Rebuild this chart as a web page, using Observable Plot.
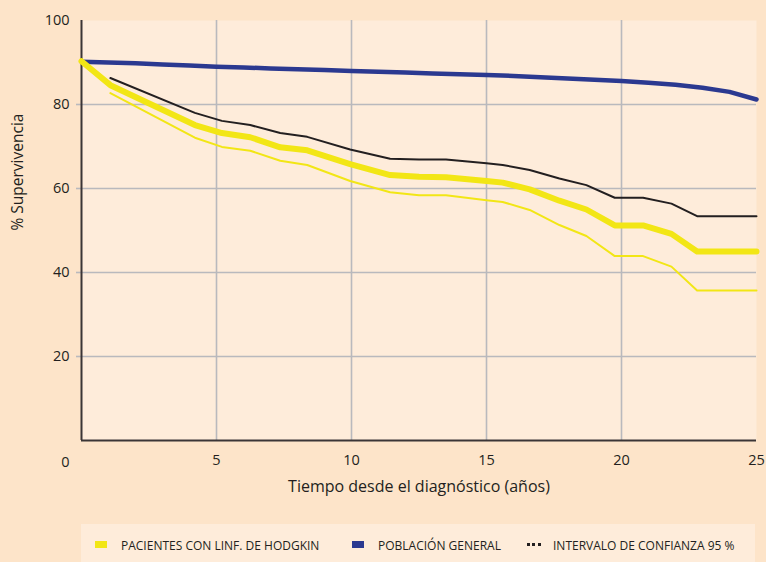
<!DOCTYPE html>
<html>
<head>
<meta charset="utf-8">
<script src="https://cdn.jsdelivr.net/npm/d3@7"></script>
<script src="https://cdn.jsdelivr.net/npm/@observablehq/plot@0.6"></script>
<style>
  html, body { margin: 0; padding: 0; background: #fde4c9; }
  body { width: 766px; height: 562px; overflow: hidden; font-family: "Open Sans", "Noto Sans", sans-serif; position: relative; }
  #legend { position: absolute; left: 81px; top: 524px; width: 674px; height: 38px; background: #feecda; }
  .li { position: absolute; top: 0; height: 38px; display: flex; align-items: center; font-size: 12px; color: #231f20; white-space: nowrap; }
  .sw { position: absolute; }
</style>
</head>
<body>
<div id="chart"></div>
<div id="legend"></div>
<script>
// Time points (years) for the patient series
const tPatients = [0, 1.07, 4.2, 5.2, 6.25, 7.36, 8.36, 9.95, 11.43, 12.5, 13.5, 15, 15.6, 16.6, 17.7, 18.7, 19.75, 20.8, 21.85, 22.8, 25];
const hodgkin   = [90.3, 84.6, 75.1, 73.2, 72.2, 69.8, 69.1, 65.8, 63.2, 62.8, 62.7, 61.8, 61.4, 59.8, 57.1, 55.0, 51.2, 51.2, 49.2, 45.0, 45.0];
// Confidence interval (starts at the second time point)
const ciUpper   = [86.3, 78.0, 76.1, 75.1, 73.2, 72.3, 69.3, 67.1, 66.9, 66.9, 66.0, 65.6, 64.4, 62.4, 60.8, 57.8, 57.8, 56.4, 53.4, 53.4];
const ciLower   = [82.7, 72.1, 69.9, 69.0, 66.6, 65.6, 61.8, 59.1, 58.4, 58.4, 57.2, 56.8, 54.9, 51.3, 48.7, 43.9, 43.9, 41.4, 35.7, 35.7];
// General population
const tGeneral  = [0,1,2,3,4,5,6,7,8,9,10,11,12,13,14,15,16,17,18,19,20,21,22,23,24,25];
const general   = [90.2, 90.0, 89.8, 89.5, 89.3, 89.0, 88.8, 88.6, 88.4, 88.2, 88.0, 87.8, 87.6, 87.4, 87.2, 87.0, 86.8, 86.5, 86.2, 85.9, 85.6, 85.2, 84.7, 84.0, 83.0, 81.2];

const xTicks = [5, 10, 15, 20, 25];
const yTicks = [20, 40, 60, 80, 100];
const gridX = [5, 10, 15, 20];
const gridY = [20, 40, 60, 80];

const legendItems = [
  {label: "PACIENTES CON LINF. DE HODGKIN", kind: "yellow"},
  {label: "POBLACIÓN GENERAL", kind: "blue"},
  {label: "INTERVALO DE CONFIANZA 95 %", kind: "dots"}
];

const colYellow = "#f2e615";
const colBlue = "#2b3990";
const colBlack = "#231f20";
const colGrid = "#b9b9bd";

const hData = tPatients.map((t, i) => ({t, v: hodgkin[i]}));
const uData = tPatients.slice(1).map((t, i) => ({t, v: ciUpper[i]}));
const lData = tPatients.slice(1).map((t, i) => ({t, v: ciLower[i]}));
const gData = tGeneral.map((t, i) => ({t, v: general[i]}));

const chart = Plot.plot({
  width: 766,
  height: 524,
  marginLeft: 81,
  marginRight: 10,
  marginTop: 20,
  marginBottom: 84,
  style: {background: "transparent", fontFamily: "'Open Sans', 'Noto Sans', sans-serif", color: "#231f20"},
  x: {domain: [0, 25]},
  y: {domain: [0, 100]},
  marks: [
    Plot.frame({fill: "#feecda", stroke: null}),
    Plot.ruleX(gridX, {stroke: colGrid, strokeWidth: 1.6}),
    Plot.ruleY(gridY, {stroke: colGrid, strokeWidth: 1.6}),
    Plot.axisY(gridY, {tickSize: 5, stroke: colGrid, strokeWidth: 1.6, text: null, label: null}),
    Plot.axisY(yTicks, {tickSize: 0, tickPadding: 12, fontSize: 14.5, label: null, fill: "#231f20"}),
    Plot.axisX(xTicks, {tickSize: 0, tickPadding: 14, fontSize: 14.5, label: null, fill: "#231f20"}),
    Plot.text([0], {x: d => d, y: 0, text: d => String(d), dx: -16, dy: 22, fontSize: 14.5, fill: "#231f20"}),
    Plot.text(["Tiempo desde el diagnóstico (años)"], {frameAnchor: "bottom", dy: 51, fontSize: 16, fill: "#231f20"}),
    Plot.text(["% Supervivencia"], {frameAnchor: "left", dx: -63, rotate: -90, fontSize: 15.5, fill: "#231f20"}),
    Plot.ruleX([0], {stroke: "#3a3536", strokeWidth: 2}),
    Plot.ruleY([0], {stroke: "#3a3536", strokeWidth: 2}),
    Plot.line(gData, {x: "t", y: "v", stroke: colBlue, strokeWidth: 4.5}),
    Plot.line(uData, {x: "t", y: "v", stroke: colBlack, strokeWidth: 2}),
    Plot.line(lData, {x: "t", y: "v", stroke: colYellow, strokeWidth: 2}),
    Plot.line(hData, {x: "t", y: "v", stroke: colYellow, strokeWidth: 6})
  ]
});
document.getElementById("chart").appendChild(chart);

// Legend
const legend = document.getElementById("legend");
const positions = [{sw: 14, tx: 40}, {sw: 271, tx: 297}, {sw: 446, tx: 472}];
legendItems.forEach((item, i) => {
  const p = positions[i];
  const sw = document.createElement("div");
  sw.className = "sw";
  sw.style.left = p.sw + "px";
  if (item.kind === "dots") {
    sw.style.top = "19px";
    sw.style.width = "14px";
    sw.style.height = "3px";
    sw.style.background = `repeating-linear-gradient(90deg, ${colBlack} 0 3px, transparent 3px 5.5px)`;
  } else {
    sw.style.top = "17px";
    sw.style.width = "12px";
    sw.style.height = "7px";
    sw.style.background = item.kind === "yellow" ? colYellow : colBlue;
  }
  legend.appendChild(sw);
  const tx = document.createElement("div");
  tx.className = "li";
  tx.style.left = p.tx + "px";
  tx.style.top = "2px";
  tx.textContent = item.label;
  legend.appendChild(tx);
});
</script>
</body>
</html>
